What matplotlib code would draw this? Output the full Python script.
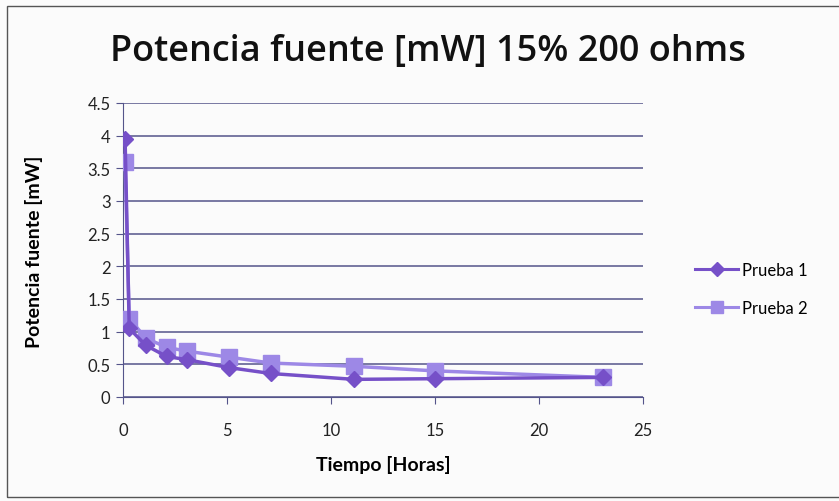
import matplotlib
matplotlib.use("Agg")
import matplotlib.pyplot as plt
from matplotlib.lines import Line2D

tiempo = [0.1, 0.3, 1.1, 2.1, 3.1, 5.1, 7.1, 11.1, 15.0, 23.1]
prueba1 = [3.95, 1.05, 0.79, 0.62, 0.57, 0.45, 0.36, 0.27, 0.28, 0.30]
prueba2 = [3.60, 1.20, 0.90, 0.76, 0.70, 0.61, 0.52, 0.47, 0.40, 0.30]

title = "Potencia fuente [mW] 15% 200 ohms"
xlabel = "Tiempo [Horas]"
ylabel = "Potencia fuente [mW]"
series_names = ["Prueba 1", "Prueba 2"]

plt.rcParams['font.family'] = ['Lato', 'DejaVu Sans']

fig = plt.figure(figsize=(8.39, 5.02), dpi=100)
fig.patch.set_facecolor('#fbfbfb')
# outer frame
fig.add_artist(plt.Rectangle((7/839, 4/502), 1.0, 1 - 11/502, transform=fig.transFigure,
                             fill=False, edgecolor='#555555', linewidth=1.0))

ax = fig.add_axes([123/839, 1 - 398/502, (643 - 123)/839, (398 - 104)/502])
ax.set_facecolor('none')

c1 = '#7650c8'
c2 = '#9d88e6'
ax.plot(tiempo, prueba1, color=c1, marker='D', markersize=8, linewidth=2.5, zorder=4)
ax.plot(tiempo, prueba2, color=c2, marker='s', markersize=11, linewidth=2.5, zorder=3)

ax.set_xlim(0, 25)
ax.set_ylim(0, 4.5)
ax.set_xticks([0, 5, 10, 15, 20, 25])
ax.set_yticks([0, 0.5, 1, 1.5, 2, 2.5, 3, 3.5, 4, 4.5])
ax.set_yticklabels(['0', '0.5', '1', '1.5', '2', '2.5', '3', '3.5', '4', '4.5'])
ax.yaxis.grid(True, color='#54548a', linewidth=1.1)
ax.set_axisbelow(True)
for s in ['top', 'right']:
    ax.spines[s].set_visible(False)
ax.spines['left'].set_color('#54548a')
ax.spines['bottom'].set_color('#54548a')
ax.tick_params(axis='both', direction='out', length=5, color='#54548a',
               labelsize=12, labelcolor='#222222', pad=4)
ax.tick_params(axis='x', pad=13)

ax.set_xlabel(xlabel, fontsize=14, fontweight='bold', labelpad=12)
fig.text(34/839, 1 - 252/502, ylabel, rotation=90, ha='center', va='center',
         fontsize=14, fontweight='bold')

fig.text(428/839, 1 - 52/502, title, ha='center', va='center', fontsize=26,
         fontweight='semibold', family=['Open Sans', 'DejaVu Sans'], color='#111111')

handles = [Line2D([], [], color=c1, marker='D', markersize=7, linewidth=2.2),
           Line2D([], [], color=c2, marker='s', markersize=9, linewidth=2.2)]
leg = fig.legend(handles, series_names, loc='center left', bbox_to_anchor=(680/839, 1 - 290/502),
                 frameon=False, fontsize=12, handlelength=2.6, handletextpad=0.2, labelspacing=1.3)

fig.savefig('out.png', dpi=100, facecolor=fig.get_facecolor())
